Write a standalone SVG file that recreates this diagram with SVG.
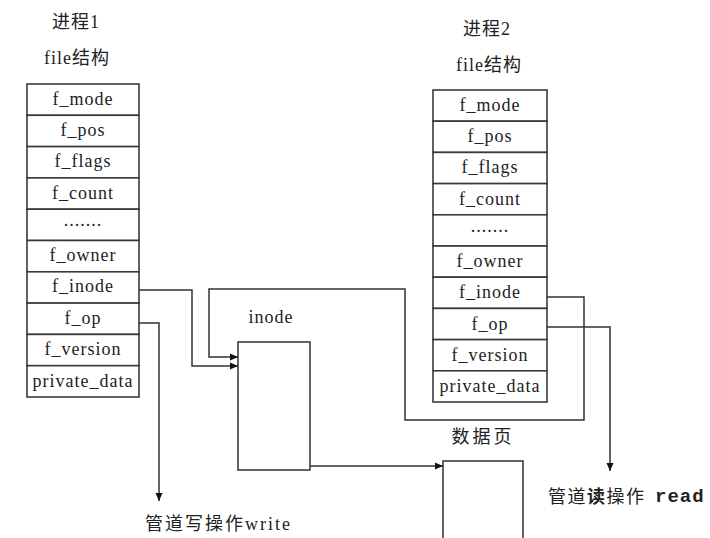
<svg xmlns="http://www.w3.org/2000/svg" width="710" height="538" viewBox="0 0 710 538">
<style>
.cell{fill:#fff;stroke:#3a3a3a;stroke-width:1.6}
.ft{font-family:"Liberation Serif","Times New Roman",serif;font-size:18px;letter-spacing:1px;fill:#222;text-anchor:middle}
.cn{font-family:"Liberation Serif","Noto Sans CJK SC",serif;font-size:18px;letter-spacing:1px;fill:#222;text-anchor:middle}
.ln{fill:none;stroke:#333;stroke-width:1.5}
.box{fill:#fff;stroke:#333;stroke-width:1.5}
</style>
<defs>
<marker id="ah" markerWidth="8" markerHeight="8" refX="8" refY="4" orient="auto" markerUnits="userSpaceOnUse">
<path d="M0,0.5 L8,4 L0,7.5 Z" fill="#111"/>
</marker>
</defs>
<rect width="710" height="538" fill="#fff"/>

<g id="proc1-label">
<text class="cn" x="76" y="28">进程1</text>
<text class="cn" x="77" y="64">file结构</text>
</g>
<g id="file1">
<rect class="cell" x="27" y="84" width="112" height="31.3"/>
<rect class="cell" x="27" y="115.3" width="112" height="31.3"/>
<rect class="cell" x="27" y="146.6" width="112" height="31.3"/>
<rect class="cell" x="27" y="177.9" width="112" height="31.3"/>
<rect class="cell" x="27" y="209.2" width="112" height="31.3"/>
<rect class="cell" x="27" y="240.5" width="112" height="31.3"/>
<rect class="cell" x="27" y="271.8" width="112" height="31.3"/>
<rect class="cell" x="27" y="303.1" width="112" height="31.3"/>
<rect class="cell" x="27" y="334.4" width="112" height="31.3"/>
<rect class="cell" x="27" y="365.7" width="112" height="31.3"/>
<text class="ft" x="83" y="105">f_mode</text>
<text class="ft" x="83" y="136">f_pos</text>
<text class="ft" x="83" y="167">f_flags</text>
<text class="ft" x="83" y="199">f_count</text>
<text class="ft" x="83" y="226">.......</text>
<text class="ft" x="83" y="261">f_owner</text>
<text class="ft" x="83" y="292">f_inode</text>
<text class="ft" x="83" y="324">f_op</text>
<text class="ft" x="83" y="355">f_version</text>
<text class="ft" x="83" y="387">private_data</text>
</g>

<g id="proc2-label">
<text class="cn" x="487" y="35">进程2</text>
<text class="cn" x="489" y="71">file结构</text>
</g>
<g id="file2">
<rect class="cell" x="433" y="90" width="114" height="31.2"/>
<rect class="cell" x="433" y="121.2" width="114" height="31.2"/>
<rect class="cell" x="433" y="152.4" width="114" height="31.2"/>
<rect class="cell" x="433" y="183.6" width="114" height="31.2"/>
<rect class="cell" x="433" y="214.8" width="114" height="31.2"/>
<rect class="cell" x="433" y="246" width="114" height="31.2"/>
<rect class="cell" x="433" y="277.2" width="114" height="31.2"/>
<rect class="cell" x="433" y="308.4" width="114" height="31.2"/>
<rect class="cell" x="433" y="339.6" width="114" height="31.2"/>
<rect class="cell" x="433" y="370.8" width="114" height="31.2"/>
<text class="ft" x="490" y="111">f_mode</text>
<text class="ft" x="490" y="142">f_pos</text>
<text class="ft" x="490" y="173">f_flags</text>
<text class="ft" x="490" y="205">f_count</text>
<text class="ft" x="490" y="232">.......</text>
<text class="ft" x="490" y="267">f_owner</text>
<text class="ft" x="490" y="298">f_inode</text>
<text class="ft" x="490" y="330">f_op</text>
<text class="ft" x="490" y="361">f_version</text>
<text class="ft" x="490" y="392">private_data</text>
</g>

<g id="inode">
<text class="ft" x="271" y="323">inode</text>
<rect class="box" x="238" y="342" width="72" height="128"/>
</g>

<g id="datapage">
<text class="cn" x="483" y="443" style="letter-spacing:3px">数据页</text>
<rect class="box" x="443" y="461" width="80" height="90"/>
</g>

<g id="write-label">
<text x="145" y="530" style="font-family:'Liberation Serif','Noto Sans CJK SC',serif;font-size:18px;letter-spacing:2px;fill:#222">管道写操作write</text>
</g>
<g id="read-label">
<text x="548" y="503" style="font-family:'Noto Sans CJK SC',sans-serif;font-size:18px;letter-spacing:1.5px;fill:#222">管道<tspan font-weight="bold">读</tspan>操作</text>
<text x="655" y="502" style="font-family:'Liberation Mono',monospace;font-weight:bold;font-size:19px;letter-spacing:1px;fill:#222">read</text>
</g>

<g id="connectors">
<path class="ln" d="M139,290 H192 V366 H238" marker-end="url(#ah)"/>
<path class="ln" d="M547,297 H584 V420 H405 V289 H209 V357 H238" marker-end="url(#ah)"/>
<path class="ln" d="M139,323 H159 V501" marker-end="url(#ah)"/>
<path class="ln" d="M547,327 H610 V471" marker-end="url(#ah)"/>
<path class="ln" d="M310,466 H443" marker-end="url(#ah)"/>
</g>
</svg>
